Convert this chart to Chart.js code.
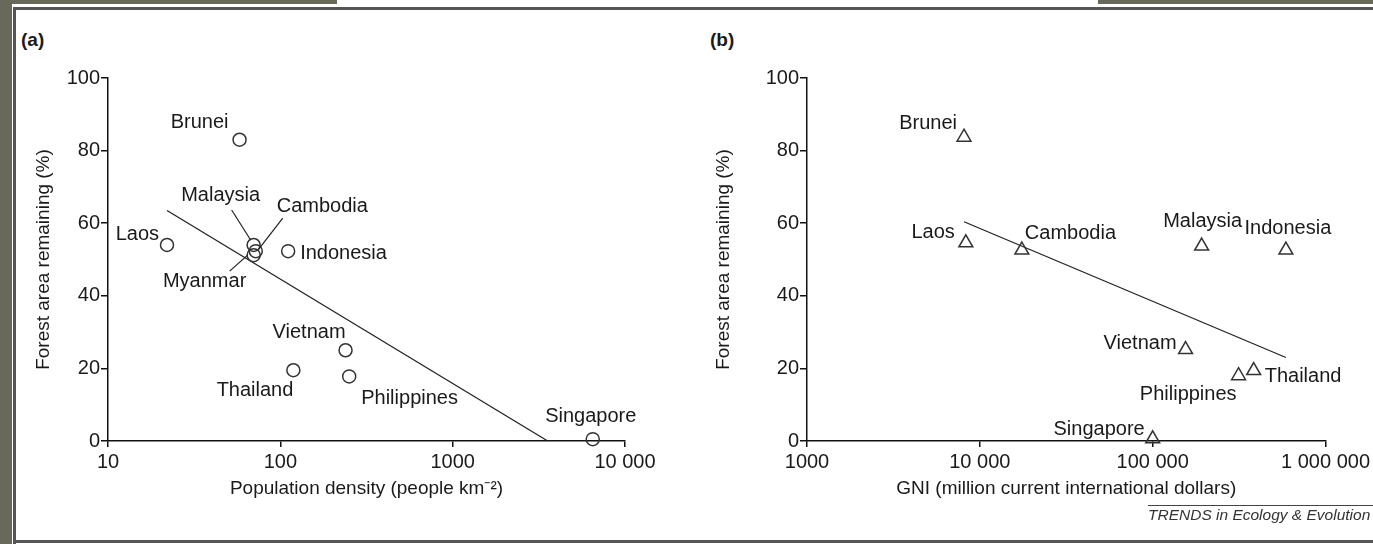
<!DOCTYPE html>
<html>
<head>
<meta charset="utf-8">
<script src="https://cdn.jsdelivr.net/npm/chart.js@4.4.1/dist/chart.umd.min.js"></script>
<style>
  body { margin: 0; width: 1373px; height: 544px; background: #fff; position: relative; overflow: hidden; font-family: "Liberation Sans", Arial, sans-serif; }
  .gray { position: absolute; background: #69695b; }
  .line { position: absolute; background: #3a3a3a; }
  canvas { position: absolute; }
  .tag { position: absolute; font-weight: bold; font-size: 19px; color: #1a1a1a; }
  #credit { position: absolute; left: 1148px; top: 505px; width: 240px; border-top: 1.5px solid #444; font-style: italic; font-size: 15.5px; color: #333; padding-top: 0px; white-space: nowrap; }
</style>
</head>
<body>
<div class="gray" style="left:0;top:0;width:12px;height:544px"></div>
<div class="gray" style="left:0;top:0;width:337px;height:4px"></div>
<div class="gray" style="left:1098px;top:0;width:275px;height:4px"></div>
<div class="line" style="left:13px;top:7px;width:1360px;height:3px;background:#555"></div>
<div class="line" style="left:13px;top:7px;width:3px;height:537px;background:#555"></div>
<div class="line" style="left:13px;top:540px;width:1360px;height:3px;background:#555"></div>
<div class="tag" style="left:21px;top:29px">(a)</div>
<div class="tag" style="left:710px;top:29px">(b)</div>
<canvas id="chartA" width="660" height="450" style="left:20px;top:60px"></canvas>
<canvas id="chartB" width="673" height="450" style="left:700px;top:60px"></canvas>
<div id="credit">TRENDS in Ecology &amp; Evolution</div>
<script>
// panel (a): forest vs population density
const countriesA = ['Brunei', 'Laos', 'Malaysia', 'Cambodia', 'Myanmar', 'Indonesia', 'Vietnam', 'Thailand', 'Philippines', 'Singapore']
const densityA = [58, 22, 70, 72, 70, 111, 239, 119, 251, 6500]
const forestA = [83, 54, 54, 52.3, 51.2, 52.3, 25, 19.5, 17.8, 0.5]
const trendXA = [22, 3560]
const trendYA = [63.5, 0]
const ticksXA = [10, 100, 1000, 10000]

// panel (b): forest vs GNI
const countriesB = ['Brunei', 'Laos', 'Cambodia', 'Malaysia', 'Indonesia', 'Vietnam', 'Philippines', 'Thailand', 'Singapore']
const gniB = [8100, 8300, 17500, 192000, 590000, 155000, 314000, 384000, 100000]
const forestB = [83.7, 54.6, 52.6, 53.7, 52.6, 25.2, 18, 19.4, 0.6]
const trendXB = [8100, 590000]
const trendYB = [60.4, 23]
const ticksXB = [1000, 10000, 100000, 1000000]

const ticksY = [0, 20, 40, 60, 80, 100]

// label placement relative to the marker (px)
const labelPosA = {
	Brunei: { dx: -11, dy: -17, align: 'right' },
	Laos: { dx: -8, dy: -10, align: 'right' },
	Malaysia: { dx: -33, dy: -49, align: 'center', lead: [-22, -35, -3, -5] },
	Cambodia: { dx: 21, dy: -45, align: 'left', lead: [27, -33, 3, -2] },
	Myanmar: { dx: -49, dy: 26, align: 'center', lead: [-24, 16, -6, 0] },
	Indonesia: { dx: 12, dy: 2, align: 'left' },
	Vietnam: { dx: 0, dy: -18, align: 'right' },
	Thailand: { dx: 0, dy: 20, align: 'right' },
	Philippines: { dx: 12, dy: 22, align: 'left' },
	Singapore: { dx: -2, dy: -23, align: 'center' }
}
const labelPosB = {
	Brunei: { dx: -7, dy: -14, align: 'right' },
	Laos: { dx: -11, dy: -10, align: 'right' },
	Cambodia: { dx: 3, dy: -17, align: 'left' },
	Malaysia: { dx: 1, dy: -25, align: 'center' },
	Indonesia: { dx: 2, dy: -22, align: 'center' },
	Vietnam: { dx: -9, dy: -6, align: 'right' },
	Philippines: { dx: -2, dy: 19, align: 'right' },
	Thailand: { dx: 11, dy: 6, align: 'left' },
	Singapore: { dx: -8, dy: -9, align: 'right' }
}

Chart.defaults.font.family = '"Liberation Sans", Arial, sans-serif'
Chart.defaults.color = '#1a1a1a'

function formatTick(v) {
	if (v < 10000) return String(v)
	return String(v).replace(/\B(?=(\d{3})+(?!\d))/g, ' ')
}

const pointLabels = {
	id: 'pointLabels',
	afterDatasetsDraw(chart, args, opts) {
		const ctx = chart.ctx
		const meta = chart.getDatasetMeta(0)
		ctx.save()
		ctx.font = '20px "Liberation Sans", Arial, sans-serif'
		ctx.fillStyle = '#1a1a1a'
		ctx.textBaseline = 'middle'
		ctx.strokeStyle = '#222'
		ctx.lineWidth = 1.2
		meta.data.forEach((pt, i) => {
			const name = opts.names[i]
			const p = opts.pos[name]
			ctx.textAlign = p.align
			ctx.fillText(name, pt.x + p.dx, pt.y + p.dy)
			if (p.lead) {
				ctx.beginPath()
				ctx.moveTo(pt.x + p.lead[0], pt.y + p.lead[1])
				ctx.lineTo(pt.x + p.lead[2], pt.y + p.lead[3])
				ctx.stroke()
			}
		})
		ctx.restore()
	}
}

function makeChart(el, names, xs, ys, tx, ty, xTicks, xTitle, pointStyle, radius, pos, yWidth, rightPad) {
	const pts = xs.map((x, i) => ({ x: x, y: ys[i] }))
	const trend = tx.map((x, i) => ({ x: x, y: ty[i] }))
	return new Chart(document.getElementById(el), {
		type: 'scatter',
		data: {
			datasets: [
				{
					data: pts,
					pointStyle: pointStyle,
					radius: radius,
					borderWidth: 1.5,
					borderColor: '#333',
					backgroundColor: 'rgba(0,0,0,0)',
					clip: false
				},
				{
					data: trend,
					showLine: true,
					borderColor: '#222',
					borderWidth: 1.3,
					radius: 0,
					clip: false
				}
			]
		},
		options: {
			responsive: false,
			devicePixelRatio: 1,
			animation: false,
			layout: { padding: { top: 18, right: rightPad, bottom: 0, left: 0 } },
			plugins: {
				legend: { display: false },
				tooltip: { enabled: false },
				pointLabels: { names: names, pos: pos }
			},
			scales: {
				x: {
					type: 'logarithmic',
					min: xTicks[0],
					max: xTicks[xTicks.length - 1],
					afterBuildTicks: s => { s.ticks = xTicks.map(v => ({ value: v })) },
					afterFit: s => { s.height = 69 },
					grid: { drawOnChartArea: false, tickLength: 6, color: '#111', lineWidth: 1.5 },
					border: { color: '#111', width: 1.5 },
					ticks: { font: { size: 20 }, padding: 3, maxRotation: 0, autoSkip: false, callback: v => formatTick(v) },
					title: { display: true, text: xTitle, font: { size: 19 }, padding: { top: 0, bottom: 10 } }
				},
				y: {
					min: 0,
					max: 100,
					afterBuildTicks: s => { s.ticks = ticksY.map(v => ({ value: v })) },
					afterFit: s => { s.width = yWidth },
					grid: { drawOnChartArea: false, tickLength: 7, color: '#111', lineWidth: 1.5 },
					border: { color: '#111', width: 1.5 },
					ticks: { font: { size: 20 }, padding: 1 },
					title: { display: true, text: 'Forest area remaining (%)', font: { size: 19 }, padding: { top: 12, bottom: 0 } }
				}
			}
		},
		plugins: [pointLabels]
	})
}

makeChart('chartA', countriesA, densityA, forestA, trendXA, trendYA, ticksXA,
	'Population density (people km\u207B\u00B2)', 'circle', 6.5, labelPosA, 88, 55)
makeChart('chartB', countriesB, gniB, forestB, trendXB, trendYB, ticksXB,
	'GNI (million current international dollars)', 'triangle', 8, labelPosB, 107, 47)
</script>
</body>
</html>
